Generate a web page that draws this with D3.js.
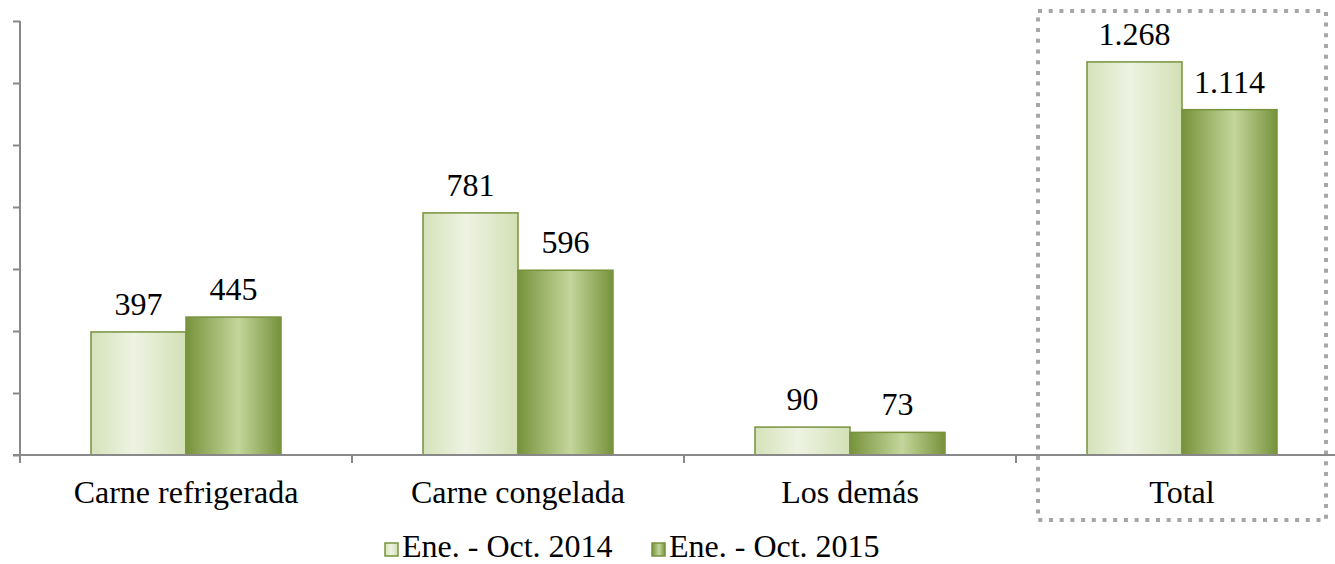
<!DOCTYPE html>
<html>
<head>
<meta charset="utf-8">
<script src="https://cdn.jsdelivr.net/npm/d3@7"></script>
<style>
  body { margin: 0; background: #fff; }
  text { font-family: Liberation Serif, serif; }
</style>
</head>
<body>
<div id="chart"></div>
<script>
// Data
var categories = ["Carne refrigerada", "Carne congelada", "Los demás", "Total"];
var seriesNames = ["Ene. - Oct. 2014", "Ene. - Oct. 2015"];
var values2014 = [397, 781, 90, 1268];
var values2015 = [445, 596, 73, 1114];
var yTicks = [0, 200, 400, 600, 800, 1000, 1200, 1400];

var W = 1335, H = 564;
var margin = {left: 20, top: 21, right: -13, bottom: 109};
var width = W - margin.left - margin.right,
    height = H - margin.top - margin.bottom;

var svg = d3.select("#chart").append("svg")
    .attr("width", W)
    .attr("height", H);

// gradients
var defs = svg.append("defs");
function grad(id, stops) {
    var lg = defs.append("linearGradient").attr("id", id)
        .attr("x1", "0%").attr("x2", "100%").attr("y1", "0%").attr("y2", "0%");
    stops.forEach(function(s) {
        lg.append("stop").attr("offset", s[0]).attr("stop-color", s[1]);
    });
}
grad("g0", [["0%", "#d5e2b9"], ["45%", "#eef3e3"], ["100%", "#d3e0b5"]]);
grad("g1", [["0%", "#77933c"], ["55%", "#c4d69c"], ["100%", "#76923b"]]);
var fills = ["url(#g0)", "url(#g1)"];

var g = svg.append("g").attr("transform", "translate(" + margin.left + "," + margin.top + ")");

var x0 = d3.scaleBand().domain(categories).range([0, 332 * 4]);
var y = d3.scaleLinear().domain([0, 1400]).range([height, 0]);

// dotted box around Total
var tb = x0("Total");
g.append("rect")
    .attr("x", tb + 22)
    .attr("y", -10)
    .attr("width", 288)
    .attr("height", 509)
    .attr("fill", "none")
    .attr("stroke", "#a6a6a6")
    .attr("stroke-width", 4)
    .attr("stroke-dasharray", "4 6.7");

// bars
var barW = 95;
var data = [];
categories.forEach(function(c, i) {
    data.push({cat: c, s: 0, v: values2014[i]});
    data.push({cat: c, s: 1, v: values2015[i]});
});

g.selectAll(".bar").data(data).enter().append("rect")
    .attr("class", "bar")
    .attr("x", function(d) { return x0(d.cat) + x0.bandwidth() / 2 - barW + d.s * barW; })
    .attr("y", function(d) { return y(d.v); })
    .attr("width", barW)
    .attr("height", function(d) { return height - y(d.v); })
    .attr("fill", function(d) { return fills[d.s]; })
    .attr("stroke", "#77933c")
    .attr("stroke-width", 1.5);

// value labels
var fmt = function(v) { return d3.format(",")(v).replace(/,/g, "."); };
g.selectAll(".val").data(data).enter().append("text")
    .attr("class", "val")
    .attr("x", function(d) { return x0(d.cat) + x0.bandwidth() / 2 - barW / 2 + d.s * barW; })
    .attr("y", function(d) { return y(d.v) - 17; })
    .attr("text-anchor", "middle")
    .attr("font-family", "Liberation Serif")
    .attr("font-size", 32)
    .text(function(d) { return fmt(d.v); });

// y axis
var yAxis = d3.axisLeft(y).tickValues(yTicks).tickSize(7).tickFormat("");
var ya = g.append("g").call(yAxis);
ya.select(".domain").remove();
ya.selectAll("line").attr("stroke", "#898989").attr("stroke-width", 2);
g.append("line")
    .attr("x1", 0).attr("x2", 0)
    .attr("y1", 0).attr("y2", height + 8)
    .attr("stroke", "#898989").attr("stroke-width", 2);

// x axis
g.append("line")
    .attr("x1", -7).attr("x2", W)
    .attr("y1", height).attr("y2", height)
    .attr("stroke", "#898989").attr("stroke-width", 2);
g.selectAll(".xtick").data(categories.slice(1)).enter().append("line")
    .attr("class", "xtick")
    .attr("x1", function(d) { return x0(d); })
    .attr("x2", function(d) { return x0(d); })
    .attr("y1", height).attr("y2", height + 8)
    .attr("stroke", "#898989").attr("stroke-width", 2);

g.selectAll(".cat").data(categories).enter().append("text")
    .attr("class", "cat")
    .attr("x", function(d) { return x0(d) + x0.bandwidth() / 2; })
    .attr("y", height + 48)
    .attr("text-anchor", "middle")
    .attr("font-family", "Liberation Serif")
    .attr("font-size", 32)
    .text(function(d) { return d; });

// legend
var legX = [385, 652];
var leg = svg.selectAll(".leg").data(seriesNames).enter().append("g")
    .attr("class", "leg")
    .attr("transform", function(d, i) { return "translate(" + legX[i] + ",543)"; });
leg.append("rect")
    .attr("width", 13).attr("height", 13)
    .attr("fill", function(d, i) { return fills[i]; })
    .attr("stroke", "#77933c")
    .attr("stroke-width", 1.5);
leg.append("text")
    .attr("x", 17)
    .attr("y", 14)
    .attr("font-family", "Liberation Serif")
    .attr("font-size", 32)
    .text(function(d) { return d; });
</script>
</body>
</html>
